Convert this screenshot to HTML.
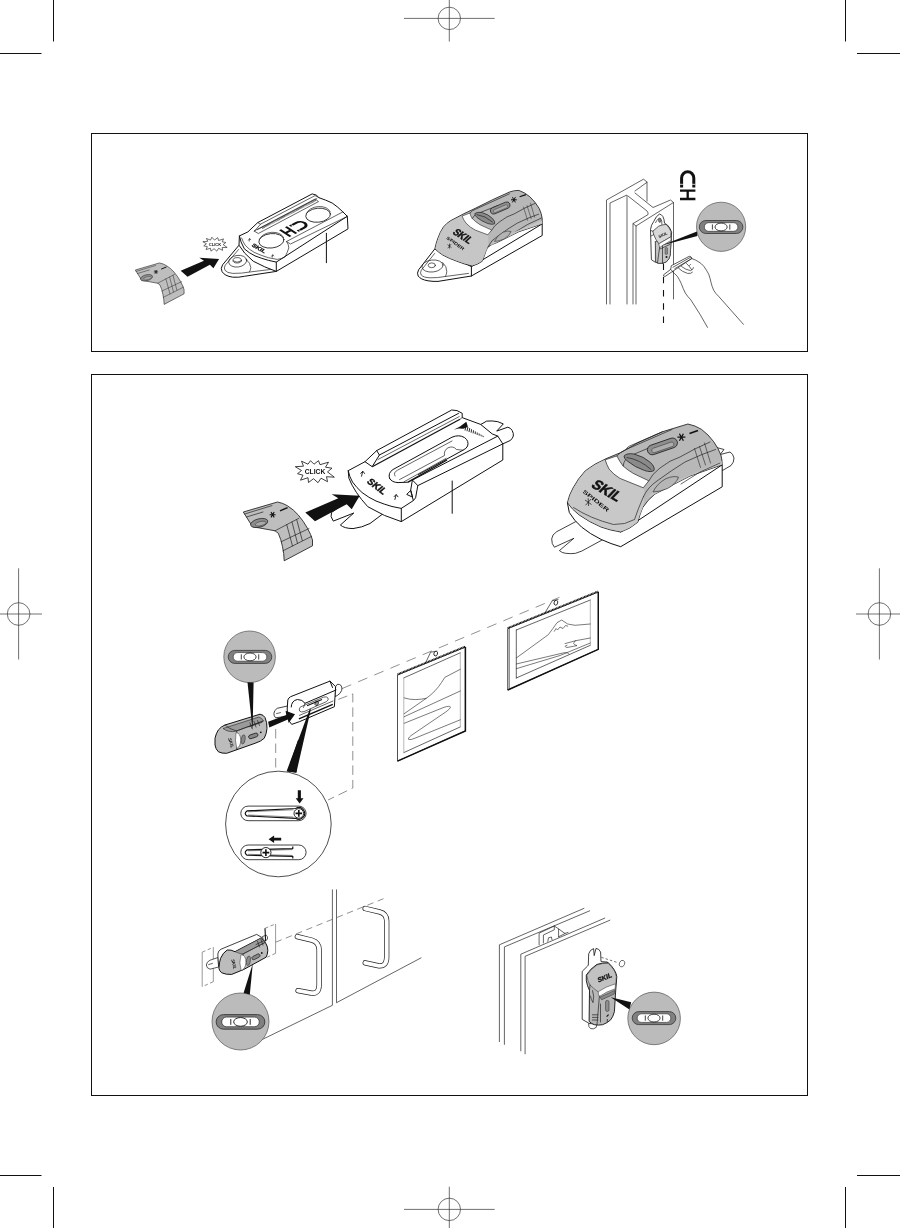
<!DOCTYPE html>
<html><head><meta charset="utf-8"><title>SKIL Spider</title>
<style>
html,body{margin:0;padding:0;background:#fff;}
body{width:900px;height:1228px;overflow:hidden;font-family:"Liberation Sans",sans-serif;}
svg{display:block;will-change:transform;}
.k{stroke:#111;stroke-width:1;fill:none;stroke-linecap:round;stroke-linejoin:round;}
.t{stroke:#222;stroke-width:.7;fill:none;stroke-linecap:round;stroke-linejoin:round;}
.w{stroke:#111;stroke-width:1;fill:#fff;stroke-linejoin:round;}
.g{stroke:#111;stroke-width:.8;fill:#bebebe;stroke-linejoin:round;}
.d{stroke:#111;stroke-width:.8;fill:#8a8a8a;stroke-linejoin:round;}
.b{fill:#111;stroke:none;}
.reg{stroke:#333;stroke-width:.7;fill:none;}
.box{stroke:#111;stroke-width:1;fill:none;}
.crop{stroke:#111;stroke-width:1;fill:none;}
.dash{stroke:#111;stroke-width:.8;fill:none;stroke-dasharray:5 3;}
text{font-family:"Liberation Sans",sans-serif;fill:#111;}
</style></head><body>
<svg width="900" height="1228" viewBox="0 0 900 1228">
<!-- FRAME -->
<g id="frame">
<path class="crop" d="M53.5 0V41.5M0 53.5H41.5M845.5 0V41.5M857 53.5H900M0 1175.5H41.5M53.5 1187V1228M845.5 1187V1228M857 1175.5H900"/>
<g class="reg">
<circle cx="449.3" cy="18.4" r="11.2"/><path d="M404 18.4H494.7M449.3 0V41.6"/>
<circle cx="449.3" cy="1209.4" r="11.2"/><path d="M404 1209.4H494.7M449.3 1186.7V1228"/>
<circle cx="18.6" cy="614" r="11.3"/><path d="M0 614H42M18.6 568.3V659.5"/>
<circle cx="879.4" cy="614" r="11.3"/><path d="M856 614H900M879.4 568.3V659.5"/>
</g>
<rect class="box" x="91.5" y="133.5" width="716" height="218"/>
<rect class="box" x="91.5" y="374.5" width="716" height="721"/>
</g>
<defs>
<g id="endpiece">
<path class="g" d="M243.3 512L277.5 502Q283 503 287.5 505.8Q293.5 509.5 298.3 515Q303.5 521 307.5 528.3Q311 534.5 312.5 540L312.5 545.8L284.2 560.8Q284 553 282.5 546.7Q281 539 278.3 533.3L275 530.8L252.5 526.7Z"/>
<path class="t" d="M275 530.8L298.8 518.3M244.6 514L272 505.6M246.5 517L263 512M283 550.8L311.7 536.3M281.3 541.7L309 528.5M286.7 524.5L292.5 546M292 522L297.5 543.3M296.7 519.6L302.3 540.5"/>
<ellipse cx="259.2" cy="523" rx="8.8" ry="4.2" transform="rotate(-14 259.2 523)" fill="#8c8c8c" stroke="#222" stroke-width=".7"/>
<ellipse cx="260.6" cy="523.6" rx="5.6" ry="2.1" transform="rotate(-14 260.6 523.6)" fill="#a9a9a9" stroke="#333" stroke-width=".5"/>
<path d="M269.6 514.7H275.6M271 512L274.2 517.4M274.2 512L271 517.4" stroke="#111" stroke-width="1.1" fill="none"/>
<path d="M280 510.8L287.6 507.6" stroke="#111" stroke-width="1.4" fill="none"/>
</g>
<g id="bigarrow"><path class="b" d="M305.3 512.5L338.3 498.3L331.7 494.2L359.7 495.8L351.7 509.2L346.7 504.2L315 521.2Z"/></g>
<g id="vial">
<rect x="-21.8" y="-6.5" width="43.6" height="13" rx="6.5" fill="#808080" stroke="#333" stroke-width=".8"/>
<rect x="-16.8" y="-4.3" width="33.6" height="8.6" rx="4.3" fill="#fff" stroke="#222" stroke-width=".6"/>
<ellipse cx="0" cy="0" rx="6.1" ry="3.9" fill="#fff" stroke="#111" stroke-width=".8"/>
<path d="M-8.7 -2.6V2.6M8.7 -2.6V2.6" stroke="#111" stroke-width=".8"/>
</g>
</defs>
<!-- SECTION A -->
<g id="secA">
<use href="#endpiece" transform="translate(135.3 270) scale(.705) translate(-243.3 -512)"/>
<use href="#bigarrow" transform="translate(180.7 270.7) scale(.705) translate(-305.3 -512.5)"/>
<g transform="translate(215 244.6) scale(.9 .82)">
<path d="M-13.5 -3.5L-8 -4L-9.5 -7.5L-5 -5.5L-3.5 -9L-0.5 -5.5L3 -8.5L4 -5L9.5 -7L8 -3.5L12 -2.5L9 0L13.5 3.5L8 3.5L8.5 7L4 4.5L2 8L-1 5L-4.5 8L-5 4.5L-10 6L-8.5 2.5L-12.5 1.5L-9.5 -1Z" fill="#fff" stroke="#111" stroke-width=".7" stroke-linejoin="miter"/>
<text x="0" y="1.8" font-size="5" font-weight="bold" text-anchor="middle" textLength="14" lengthAdjust="spacingAndGlyphs">CLICK</text>
</g>
</g>
<!-- SECTION B -->
<g id="secB">
<!-- tab -->
<path class="w" d="M239 245.2L222.6 264.8Q220.3 268.5 222 271.5Q224.5 276 232.8 277.2Q239 277.6 244.3 276.3L276.3 271.4L276.3 262.1L255 255.9Z"/>
<path class="t" d="M238.6 249.5L225.2 265.2Q223.6 268 225 270.3Q227 273 232.8 273.4Q241 273.6 250.6 271.9L272.8 269.2M246.1 259.4Q250.6 263 250.8 267.5Q250.6 270 249.5 271.9"/>
<ellipse class="t" cx="237.7" cy="261.2" rx="9.1" ry="5.8" transform="rotate(-8 237.7 261.2)"/>
<ellipse class="t" cx="237.2" cy="260.3" rx="4.2" ry="2.7"/>
<path class="t" d="M233.2 261Q237 263.6 241.3 261"/>
<!-- body -->
<path class="w" d="M239.4 235.9L247.9 231.9L257.7 222.6L312.2 193.9L316.5 195.2L318.9 197.7Q326 200 332.2 203Q338 207 342.9 211.9L347.3 216.3L348 228.9L276.3 271.4Q264.8 267.4 253.2 261.2Q243.4 253.2 239 245.2Z"/>
<path class="k" d="M239.4 235.9Q240.3 241.7 244.3 248.8Q249 253 255 255.9Q262 258.6 268.3 260.3L276.3 262.1V271.4M276.3 262.1L347.3 216.3"/>
<path class="t" d="M241.7 238.1Q243 242 245.2 245.2Q249 249.5 254.1 252.3Q261 255.5 268.3 257.7L277.2 259.4Q282 259 285.2 256.8Q287.5 252 288.8 247.9Q288.6 244 286.5 241.5L342.9 211.9M286.5 241.5L290.5 244L347 216.6"/>
<!-- slot -->
<path class="t" d="M254.4 231.2L258.3 233.5L318.5 201.6L315.5 199.2ZM257.5 229.6L316.8 198.6"/>
<path d="M262 228.3L316 200.2" stroke="#333" stroke-width="1.6" stroke-dasharray=".6 .6" fill="none"/>
<path class="t" d="M257.7 222.6L260.5 224.2L315 195.6L318.9 197.7M260.5 224.2L254.4 231.2"/>
<!-- circles -->
<ellipse class="k" style="stroke-width:.8" cx="271.4" cy="240.8" rx="12.6" ry="7.2" transform="rotate(-6 271.4 240.8)"/>
<path class="t" d="M259.4 239.5Q262 233.2 271.8 232.3Q281 232 283.6 237.6"/>
<ellipse class="k" style="stroke-width:.8" cx="318.1" cy="215.2" rx="12.4" ry="7" transform="rotate(-6 318.1 215.2)"/>
<path class="t" d="M306.3 213.6Q309 207.4 318.6 206.5Q327.6 206.3 330.3 211.8"/>
<!-- magnet icon on base -->
<g transform="matrix(.883 -.469 .839 .545 294.3 228.4)" stroke="#111" fill="none" stroke-width="2.3" stroke-linecap="butt">
<path d="M-10.2 -6.2V6.2M-3.6 -6.2V6.2M-10.2 0H-3.6"/>
<path d="M-.5 -4.6H7A4.6 4.6 0 0 1 7 4.6H-.5" stroke-width="2.5"/>
<path d="M1.6 -6V-3.2M1.6 3.2V6" stroke="#fff" stroke-width=".7"/>
</g>
<!-- text -->
<text transform="translate(257.9 249.8) rotate(30) scale(1 .8)" font-size="6.6" font-weight="bold" font-style="italic" stroke="#111" stroke-width=".35" text-anchor="middle">SKIL</text>
<path d="M248.2 240.5L249.6 238.5L251 240M249.6 238.5L249.2 241.5M271.3 256.6L272.7 254.7L274 256.2M272.7 254.7L272.3 257.6" stroke="#111" stroke-width=".6" fill="none"/>
<path class="k" d="M326.4 233.3V262.7"/>
</g>
<!-- SECTION C -->
<g id="secC">
<!-- base tab -->
<path class="w" d="M434.9 248.8L418.6 269.8Q416.6 273.5 418.2 276Q420.5 279.5 428 280.8Q433 281.6 438 281.4L471.4 276L542.2 235.5V223.9L471.4 266.6Z"/>
<path class="t" d="M434.6 253.5L421.3 270.2Q419.8 273 421.2 275Q423.5 277.6 430 277.8Q437 278 446 276.4L468.5 273.4M442.7 262.5Q447 266.5 446.8 271.5Q446.6 274.5 445.5 276.4"/>
<ellipse class="t" cx="432.5" cy="266" rx="10.6" ry="6" transform="rotate(-6 432.5 266)"/>
<ellipse class="t" cx="431.8" cy="265.3" rx="3.6" ry="2.4"/>
<path class="k" d="M471.4 266.6V276"/>
<!-- gray body rear -->
<path class="g" style="fill:#b8b8b8" d="M434.9 248.8Q436 243 438 237.9Q440 232 443.4 227Q446.5 223.3 450.4 220.8L463.7 213.8L475.3 208.3L492.4 199.8L509.5 192Q514.5 190.2 518.9 190.4Q525 192.5 529.8 196.7Q535.5 202 539.1 208.3Q541.6 213.5 542.2 218.4V223.9L518.9 231.7L497.1 242.5Q491 244.5 487.8 247.2Q485.6 251 484.6 255L482.3 261.2Q478 264.5 472.2 265.9Q464 264.2 456.7 261.2Q449 258.5 442.7 255Q438 252 434.9 248.8Z"/>
<!-- lighter nose -->
<path d="M435.4 248.6Q436.4 243 438.4 237.9Q440.4 232 443.8 227.3Q446.8 223.6 450.6 221.2L462.1 215.6L466 223.1Q470 227.5 475.3 230.1L487.8 234.8Q489 240 487.8 247.2Q485.6 251 484.6 255L482.3 260.8Q478 264 472.2 265.4Q464 263.8 456.7 260.8Q449 258 442.7 254.6Q438.5 252 435.4 248.6Z" fill="#c6c6c6"/>
<!-- white stripe -->
<path d="M462.1 216.1L469.9 213Q470.5 216 472.2 218.4Q475.5 222 480 224.7L491.7 230.1L487.8 234.8L475.3 230.1Q470 227.5 466 223.1Q463.5 220 462.1 216.1Z" fill="#fff" stroke="#222" stroke-width=".6"/>
<!-- top hump -->
<path class="t" d="M469.9 213Q472 210.5 476 209L509.5 193.8M472.2 218.4Q474 214.5 479 213L498 205.5M491.7 230.1Q494 225.5 500 221.5Q507 216 514 214Q524 208 535 203.4M487.8 247.2Q491 240 498 236Q508 228.5 517.5 223L529 217.8L538.6 214.2M514.5 232.5L527.5 224.5L541.5 218"/>
<path d="M490 246Q493.5 241 500 238L541.8 220.6L542 223.7L518.9 231.5L497.1 242.3Q492.5 244.5 490 246Z" fill="#c6c6c6"/>
<!-- ovals -->
<path d="M474.8 213.5Q477.5 211.6 482 212.6Q488.5 214.3 492.6 218.6Q495.6 222 494.6 223.8Q492.5 225 488 223.6Q481 221 477 217.5Q474.6 215.2 474.8 213.5Z" fill="#8a8a8a" stroke="#222" stroke-width=".7"/>
<path d="M477 214.6Q485 215.5 492.5 222" class="t"/>
<rect x="-10.4" y="-3.3" width="20.8" height="6.6" rx="3.3" transform="translate(500.2 208) rotate(-23)" fill="#8e8e8e" stroke="#222" stroke-width=".7"/>
<rect x="-7.6" y="-1.5" width="15.2" height="3" rx="1.5" transform="translate(500.6 208.7) rotate(-23)" fill="#adadad" stroke="#333" stroke-width=".4"/>
<!-- side bump -->
<path d="M494.5 241.5Q497 235.5 503 232.2Q508 230.3 511 231.5Q509.5 236 504 239Q499 241.2 494.5 241.5Z" fill="#b4b4b4" stroke="#333" stroke-width=".6"/>
<!-- asterisk & dash -->
<path d="M511 199.8H516.8M512.4 197.2L515.4 202.4M515.4 197.2L512.4 202.4" stroke="#111" stroke-width="1" fill="none"/>
<path d="M519.6 196.7L525.9 194.6" stroke="#111" stroke-width="1.2"/>
<!-- grid -->
<path class="t" style="stroke-width:.5" d="M523.5 207L527.6 220.4M527 205.6L531.2 218.6M530.5 203.2L534.6 217.2"/>
<!-- texts -->
<text transform="translate(460.3 238.6) rotate(33) skewX(-14)" font-size="10.5" font-weight="bold" stroke="#111" stroke-width=".4" text-anchor="middle" textLength="20" lengthAdjust="spacingAndGlyphs">SKIL</text>
<text transform="translate(454.6 244.6) rotate(36)" font-size="4.4" font-weight="bold" text-anchor="middle" textLength="21" lengthAdjust="spacingAndGlyphs">SPIDER</text>
<path d="M447.5 244.6L451.5 247.6M451.2 244L447.8 248.2M449.5 243.6V248.6" stroke="#111" stroke-width=".6"/>
</g>
<!-- SECTION C2: I-beam -->
<g id="secC2">
<path class="t" d="M606.5 304V200L643.5 179.2L647 182V201M610 304V203L626.5 195.2M635 191L647 182.3M627 195.5V304M628 196L647 211Q648.6 213 648 214.6L633 223.6V304M635 193L653 207.5L670.5 200L673.5 202.5V299M673.5 202.5L636 226V304M633 223.6L636 226"/>
<!-- device on beam -->
<path class="w" style="stroke-width:.8" d="M659.4 214.1Q656 216 653.7 221.5Q651 225 650.5 229.5L651.4 259.7Q654.5 262.3 658.8 263.4Q663 263.5 666.2 262Q669.3 259.5 670.2 255.2L671.6 232.4Q670.5 228 667.4 225L664.5 223.2Q664.3 219 662.8 216.4Q661.3 214.2 659.4 214.1Z"/>
<path class="t" d="M655.6 222.6Q658 217.5 660.5 218.6Q662.2 221 662 224.5M655.4 241.5V261.6"/>
<ellipse cx="659.8" cy="220.2" rx="1.3" ry="2.2" fill="#888" stroke="#222" stroke-width=".5"/>
<path d="M655.4 241.5L671.2 239L670.2 255.2Q669.3 259.5 666.2 262Q663 263.5 658.8 263.4L655.7 262Z" fill="#c6c6c6" stroke="#222" stroke-width=".6"/>
<path d="M652.8 231.2L658.8 226.1Q662.5 224.6 666.2 224.4Q669.4 227.5 671.1 231.8L670.8 236.9L658.8 243.8Q655.5 239.5 653.7 234.6Z" fill="#d8d8d8" stroke="#222" stroke-width=".7"/>
<path d="M658.8 243.8L670.8 236.9L671 240.4L659.6 247.4Z" fill="#fff" stroke="#222" stroke-width=".5"/>
<path class="t" d="M650.8 230.5L652.8 231.2M653.7 234.6L651 236M659.6 247.4L657.5 262.8M662.5 246V263.3M660 249L669.8 244.5"/>
<rect x="665" y="247.5" width="2.6" height="7" rx="1.2" fill="#8a8a8a" stroke="#222" stroke-width=".4"/>
<circle cx="666.5" cy="257" r="1" fill="#111"/>
<text transform="translate(663.6 236.2) rotate(-27)" font-size="4.2" font-weight="bold" font-style="italic" text-anchor="middle">SKIL</text>
<!-- bubble -->
<circle cx="721.1" cy="226.8" r="24.6" fill="#bbb" stroke="#555" stroke-width=".7"/>
<use href="#vial" transform="translate(721.1 227)"/>
<path class="b" d="M661.5 245.6L696.9 231.4L697.4 236Z"/>
<!-- magnet icon -->
<g stroke="#111" fill="none" stroke-linecap="butt">
<path d="M681.6 187.4V177.9A6.1 6.1 0 0 1 693.8 177.9V187.4" stroke-width="3"/>
<path d="M680 184.3H683.3M692.1 184.3H695.4" stroke="#fff" stroke-width=".8"/>
<path d="M680 190.6H695.4M680 199H695.4M687.7 190.6V199" stroke-width="2.3"/>
</g>
<!-- dashed -->
<path d="M663.5 263.5V323" stroke="#111" stroke-width="1.1" stroke-dasharray="6.5 6.75" fill="none"/>
<!-- hand -->
<path class="w" style="stroke-width:.7" d="M663.3 275L670.7 269.4L671.3 265.7L689.3 256.3Q691.5 256.6 692 258.3L672.6 271.4L664.7 276.7Z"/>
<path class="t" d="M670.7 269.4L672.6 271.4M673 267.2L690.5 257.3M674.8 268.6L691.4 258.8"/>
<path class="t" d="M692 258.6Q696 260 698.9 262Q701.5 263.5 703.8 266.3Q706.5 270 708.7 274.2Q710.3 278.5 711.1 282.8Q712 286.5 713.6 290.1Q715.5 293.5 718.5 296.2L743.5 324.4M672.3 271.6Q675 273.8 677.3 276.3Q679.5 279.5 681.3 283.7Q683 288.5 685.3 293Q687.5 296.5 690.7 299.7L700 314.3L707.5 327.4"/>
<path class="t" d="M678.5 268.2Q682 271.8 687.5 273.4Q691 274 692.5 272.2M681.5 266.5Q686 270 690.5 270.6Q693 270 693.5 267.6M686.5 263.5Q689.5 266.2 691.5 269.5M689.5 265.5L690.5 264.4"/>
</g>
<!-- SECTION D -->
<g id="secD">
<!-- front leg of base (behind arrow) -->
<path class="w" d="M345 503L331.5 512.5Q329.8 516.5 333.3 521.1L353.8 513L340.4 525Q344 528.4 353 528.6Q362 527.6 370 523.5L384 513L362 494Z"/>
<use href="#endpiece"/>
<use href="#bigarrow"/>
<g transform="translate(315 471.7)">
<path d="M-19.7 -5L-11.5 -5.5L-13.5 -10.5L-7 -7.5L-4.5 -11L-1 -7.5L3.5 -11L5 -7L13.5 -9.5L10.5 -4.5L17 -3.5L12.5 0.2L19.3 5.5L11.5 5L12.5 10L6 6.5L3 11L-1.5 7L-6.5 10.8L-7 6L-14.5 8.5L-12 3.5L-17.5 2L-13.5 -1.2Z" fill="#fff" stroke="#111" stroke-width=".8" stroke-linejoin="miter"/>
<text x="0" y="2.7" font-size="7.4" font-weight="bold" text-anchor="middle" textLength="20.5" lengthAdjust="spacingAndGlyphs">CLICK</text>
</g>
</g>
<!-- SECTION E -->
<g id="secE">
<!-- back leg -->
<path class="w" d="M478 426L486.7 421.1Q492 420.5 497.8 421.7L503.3 423.9L496.7 431.1L507.8 427.2Q511 428 512.2 430.6Q513.8 433.5 513.3 436.1Q512.5 439 510 440.6L502.8 443.9L492 436Z"/>
<!-- body -->
<path class="w" d="M348.2 470.7L365 461.7L376.7 450.6L451.7 410Q457 409.5 462.2 413.3V417.6L480.6 424.4L492.2 433.9L497.8 436.1L502.8 443.9V460L401.3 521.6Q384.4 516.7 367.8 506.7Q354.4 492.2 348.9 478.3Z"/>
<path class="k" d="M348.2 470.7Q349.4 476.7 352.5 482Q356.7 487.8 362 492.5Q368.9 497.8 376 501Q384.4 504.4 392 506.5L401.3 508.4V521.6M401.3 508.4L413.3 500.6L415.6 497.8L417.8 485.6L502.8 443.9"/>
<!-- right rail -->
<path class="k" d="M412.4 480L497.8 436.1M412.4 480L417.8 485.6M412.4 480L410.6 490.6L413.3 500.3M410.6 490.6L406.7 494.4L412.2 497Z"/>
<!-- left rail -->
<path class="k" d="M365 461.7L372.2 466.7L379.4 455L376.7 450.6M379.4 455L458.5 413.4"/>
<path class="t" d="M378 459.5L459.2 416.6"/>
<path d="M372.2 466.7L460 419.2" stroke="#111" stroke-width="1.3" fill="none"/>
<path class="t" d="M462.2 417.6L459.5 419.6"/>
<!-- slot -->
<path class="k" d="M389.6 478.5Q387.6 473 393 469.5L452 437.2Q459 434.2 464.6 437.6Q469.2 441 467.6 446Q466.5 448.6 463 450.2L418.5 474.5M389.6 478.5Q392 482.4 398 482.6L408 482.2"/>
<path class="t" d="M395 476Q393 472.6 397.5 470.2L452 441M399.5 479.6L444.5 455.5Q443.6 450.5 448 447.8Q453 445.5 456.5 449.5L463 450.2M404 481.8L446 458.4"/>
<path d="M408 482.2L447 460" stroke="#111" stroke-width="1.4" fill="none"/>
<!-- screw icon -->
<path class="b" d="M453.7 429.7L460 426.6L466.3 421.8L467.9 426.8L463.4 428.8L458.5 428.4Z"/>
<path d="M466.0 425.9L465.0 430.5M467.9 427.0L467.0 431.2M469.8 428.1L469.0 432.0M471.6 429.2L471.1 432.7M473.5 430.3L473.1 433.4M475.3 431.4L475.2 434.1M477.2 432.5L477.2 434.9M479.1 433.5L479.2 435.6M480.9 434.6L481.3 436.3M482.8 435.7L483.3 437.1" stroke="#111" stroke-width=".9" fill="none"/>
<!-- text -->
<text transform="translate(374.6 488.6) rotate(37) skewX(-12)" font-size="9.5" font-weight="bold" stroke="#111" stroke-width=".4" text-anchor="middle" textLength="21" lengthAdjust="spacingAndGlyphs">SKIL</text>
<path d="M361.4 476.6L362.8 471.2M360.4 473.6L362.8 471.2L364.8 473.8M394.8 499.9L396.2 494.5M393.8 496.9L396.2 494.5L398.2 497.1" stroke="#111" stroke-width=".9" fill="none"/>
<path class="k" d="M452.2 481V513.3"/>
</g>
<!-- SECTION F -->
<g id="secF">
<!-- rear leg -->
<path class="w" style="stroke-width:.8" d="M712 443L716.5 447.5L724 449.5L720 454.6L730 452Q733 453.5 734 458Q734 462.5 731 465.5L722.5 470.5L716 462Z"/>
<!-- front leg -->
<path class="w" style="stroke-width:.8" d="M575.6 521.7L556.7 531.7Q552 534.5 551.7 538.9Q551.5 544 554.4 547.2L573.9 538.3L559.4 550.6Q562 553 565.6 553.3Q571 554 575.6 553.3Q582 551.5 587.8 547.8L603 539.5L590 520Z"/>
<!-- base -->
<path class="w" d="M567.4 502.7L569.3 512.5Q574 520.5 581.6 527.1Q590 534 601.1 539.4Q611 544 620.7 546.7L722.2 486.8V464.8L620.7 532Z"/>
<!-- gray body (rear) -->
<path class="g" style="fill:#b8b8b8" d="M567.4 502.7Q569 495 573 488Q578 478.5 585.2 470.9Q594 463.8 606 458.7L620.7 452.6L637.8 442.8L662.2 431.8L687.9 424Q695.5 425.5 701.4 429.3Q708.5 434.5 713.6 441.6Q718.5 448.5 720.9 455Q722.2 460 722.2 464.8L690 476L654.9 494.1Q647.5 500 642.7 507.6Q639.5 515 637.8 522.2Q630 529 620.7 532Q610.5 530.5 601.1 527.1Q589 522 579.1 514.9Q572 509.5 567.4 502.7Z"/>
<!-- lighter side panel -->
<path d="M647 498Q652 492 660 488L721.6 461L722 464.6L690 475.8L654.9 493.9Q650.5 496.5 647 498Z" fill="#c4c4c4"/>
<!-- lighter nose -->
<path d="M568 502.4Q569.6 495 573.6 488Q578.6 478.6 585.6 471.3Q594.4 464.2 606.2 459.2L605.2 459.8Q606.8 465 609.1 469.1Q613.5 474.5 620 478.4L643.3 487.8Q645.5 492 643.5 496.5Q645 502 642.7 507.6Q639.5 515 637.4 521.9Q630 528.5 620.7 531.4Q610.5 530 601.1 526.6Q589 521.5 579.4 514.5Q572.5 509.3 568 502.4Z" fill="#c8c8c8"/>
<path class="t" d="M573.5 507.5Q590 518.5 613.5 524.5Q625 525 634.5 519.5Q638 509 643.5 496.5"/>
<!-- white stripe -->
<path d="M605.2 459.8L616.9 455.9Q619.5 461.5 623.1 466Q628 470.5 634 473.8L648.8 480.8L643.3 487.8L620 478.4Q613.5 474.5 609.1 469.1Q606.8 465 605.2 459.8Z" fill="#fff" stroke="#222" stroke-width=".7"/>
<!-- top contour lines -->
<path class="t" d="M616.9 455.9Q620 452 626 449.5L672 429.5M623.1 466Q624 458.5 631 455.5L664 441.5M648.8 480.8Q652 474 660 468Q670 460 680 457Q694.5 448.5 710 442M643.5 496.5Q648 487 657 481Q672 470 685 462L702 454.5L715.5 449.5M681 484L700 472L720 463M626.5 448.5L628.5 446.5L662.4 431.8"/>
<!-- vial ovals -->
<path d="M624 456Q627 452.8 634 454Q644 456.5 650.5 462.5Q655.3 467.5 654 470.5Q651 472.6 644.5 470.5Q634.5 467 628 461.5Q623.6 458.5 624 456Z" fill="#8a8a8a" stroke="#222" stroke-width=".8"/>
<path class="t" d="M627 457.5Q640 459.5 651 469.5"/>
<rect x="-15.6" y="-4.9" width="31.2" height="9.8" rx="4.9" transform="translate(662.4 446.4) rotate(-19)" fill="#8e8e8e" stroke="#222" stroke-width=".8"/>
<rect x="-11.6" y="-2.3" width="23.2" height="4.6" rx="2.3" transform="translate(662.8 447.4) rotate(-19)" fill="#adadad" stroke="#333" stroke-width=".5"/>
<!-- side bump -->
<path d="M653 492Q657 483.5 666 478.6Q673.5 475.5 678.5 477.2Q676 484 667.5 488.5Q660 491.8 653 492Z" fill="#b6b6b6" stroke="#333" stroke-width=".7"/>
<!-- asterisk & dash -->
<path d="M677.4 437.2H685.4M679.4 433.7L683.4 440.7M683.4 433.7L679.4 440.7" stroke="#111" stroke-width="1.3" fill="none"/>
<path d="M689.5 433.6L698 430.6" stroke="#111" stroke-width="1.6"/>
<!-- grid -->
<path class="t" style="stroke-width:.6" d="M694.5 448.5L700.5 467.5M699.5 446.5L705.5 465M704.5 443L710.5 463"/>
<!-- texts -->
<text transform="translate(603.6 494.2) rotate(30) skewX(-14)" font-size="14.5" font-weight="bold" stroke="#111" stroke-width=".5" text-anchor="middle" textLength="31" lengthAdjust="spacingAndGlyphs">SKIL</text>
<text transform="translate(594.8 502.2) rotate(39)" font-size="5.4" font-weight="bold" text-anchor="middle" textLength="32" lengthAdjust="spacingAndGlyphs">SPIDER</text>
<path d="M585 500L591.5 504.5M591 499L585.6 505.2M588.2 498.2L588.5 506" stroke="#111" stroke-width=".7"/>
</g>
<!-- SECTION G -->
<g id="secG">
<!-- dashed guides -->
<g stroke="#555" stroke-width=".65" fill="none" stroke-dasharray="10 7.5">
<path d="M342 688.6L559.5 597.3"/>
<path d="M338.3 699.4L352.8 693.9V788L328 800" stroke-dasharray="9.5 5"/>
<path d="M275.7 729V771" stroke-dasharray="9.5 5"/>
</g>
<!-- bubble -->
<circle cx="249.6" cy="656.8" r="25.8" fill="#bbb" stroke="#555" stroke-width=".7"/>
<use href="#vial" transform="translate(250 656.9)"/>
<!-- device -->
<path class="g" style="fill:#bcbcbc;stroke-width:1" d="M215 738.3Q216 733.5 218.3 730Q221 726.5 225 725L260 714.2Q263.5 714.8 265 717.5Q267.2 722.5 267 728.3Q266.6 734 264.2 738.3Q261 741.5 255 743.3L226.7 753.3Q221.5 753.6 218.3 751.7Q215.6 749 215 745Z"/>
<path d="M223 728.5L259 717Q262 718 263.3 721L236.5 731Q229 733 223 728.5Z" fill="#9a9a9a" stroke="#222" stroke-width=".6"/>
<path class="t" d="M225 725Q229 729 236.5 731L263.3 721M236.5 731Q239.5 739 236.5 749.6M250 723L252 728.5M254 721.5L256 727M257.5 720.5L259.5 725.5M249 726.8L262 722.3"/>
<path d="M236 732.6Q240.5 733 240.8 740Q240.6 746.5 236.8 748.6Q234.6 741 236 732.6Z" fill="#fff" stroke="#222" stroke-width=".5"/>
<ellipse cx="243.2" cy="739.4" rx="1.9" ry="4.6" fill="#8a8a8a" stroke="#222" stroke-width=".5" transform="rotate(8 243.2 739.4)"/>
<rect x="-4.8" y="-1.9" width="9.6" height="3.8" rx="1.9" fill="#888" stroke="#111" stroke-width=".7" transform="translate(253.3 735.9) rotate(-19)"/>
<circle cx="260.8" cy="732.3" r=".9" fill="#111"/>
<text transform="translate(229.6 743.4) rotate(72)" font-size="4.6" font-weight="bold" font-style="italic" text-anchor="middle">SKIL</text>
<path class="b" d="M247.5 682.2L253.6 682.4L252.6 730.6Z"/>
<!-- base -->
<path class="w" d="M287.4 706L277.2 708.3Q274 710.5 273.9 713.3Q273.8 716 275.6 717.8L288.6 716Z" style="stroke-width:.8"/>
<path class="t" d="M276.5 713.6L280.5 712.6"/>
<path class="w" d="M335.6 686.7L337.2 684.4Q339.5 683.8 341.1 685.6Q342.5 688 341.7 690.4Q340.5 693.5 337.2 695.6L335 696.5Z" style="stroke-width:.8"/>
<path class="w" d="M287.8 700Q288.5 697.8 290.6 696.7L330 681.1L335.6 686.7L334.4 706.7L299.4 721.7L291.7 724.4L288.9 720.6Q287 714 287.2 708.9Z"/>
<path class="k" d="M291.2 707Q291.5 700.5 297.4 699.5Q302.5 699.5 305 703.3L336 690M330 681.1L332.5 687.5"/>
<path class="t" d="M305 703.3L303.5 707.5M300.2 707.2Q298.5 709 299.6 711Q301 712.6 304 711.6L326.5 701.6Q329 700 328 698Q326.8 696.2 324 697Z"/>
<path d="M298.9 718.9L332.8 704.4" stroke="#111" stroke-width="1.5" fill="none"/>
<path class="t" d="M299.4 715.4L333 701"/>
<ellipse cx="316.7" cy="703.3" rx="1.7" ry="2.4" fill="#999" stroke="#111" stroke-width=".6" transform="rotate(20 316.7 703.3)"/>
<path d="M307 705.8L322 699.4" stroke="#111" stroke-width="1.1"/>
<path class="b" d="M310 708.6L310.8 709.6L296.4 772.5L286.6 771.2Z"/>
<!-- arrow -->
<path class="b" d="M268.1 721.7L286.2 715L285.6 710.8L295 714.2L288.7 723L287.8 719.6L269.3 727.4Z"/>
<!-- big circle -->
<circle cx="278.4" cy="824" r="52.8" fill="#fff" stroke="#222" stroke-width=".8"/>
<path class="b" d="M298 740L299.6 740L296.4 772.8L287.4 771.6Z"/>
<rect x="240.8" y="806.1" width="65.3" height="14.6" rx="7.3" fill="#fff" stroke="#111" stroke-width=".8"/>
<path d="M247 810.9L295.7 808.5A5.8 5.8 0 1 1 295.7 818.3L247 815.9Q243.4 813.4 247 810.9Z" fill="#fff" stroke="#111" stroke-width="1.2" stroke-linejoin="round"/>
<path class="t" style="stroke-width:.5" d="M248.5 811.8L293 809.8M248.5 815L293 817"/>
<circle cx="298.8" cy="813.4" r="4.8" fill="#fff" stroke="#111" stroke-width=".9"/>
<path d="M295.5 813.4H302.1M298.8 810.1V816.7" stroke="#111" stroke-width="1.6"/>
<path class="b" d="M297.8 790.3H300.9V798.3H303.5L299.6 803.4L295.7 798.3H297.8Z"/>
<rect x="240.8" y="845" width="65.3" height="14.7" rx="7.35" fill="#fff" stroke="#111" stroke-width=".8"/>
<path d="M292.8 846.4V848.6L247 849.9Q243.4 852.5 247 855.2L292.8 856.4V858.4" fill="none" stroke="#111" stroke-width="1.2" stroke-linejoin="round"/>
<path class="t" style="stroke-width:.5" d="M248.5 850.8L292 849.6M248.5 854.3L292 855.4"/>
<circle cx="265.9" cy="852.6" r="5.1" fill="#fff" stroke="#111" stroke-width=".9"/>
<path d="M262.5 852.6H269.3M265.9 849.2V856" stroke="#111" stroke-width="1.6"/>
<path class="b" d="M281.2 837.8V840.6H274.1V842.9L268.6 839.2L274.1 835.5V837.8Z"/>
<!-- picture 1 -->
<path d="M397.5 675L465.4 647.1V730.9L397.5 761.1Z" fill="#fff" stroke="#222" stroke-width=".8"/>
<path d="M397.5 761.1L465.4 730.9V647.1" fill="none" stroke="#111" stroke-width="1.5"/>
<path d="M397.5 674.4L465.4 646.5" stroke="#111" stroke-width="1.9" stroke-dasharray="1 .5" fill="none"/>
<path d="M403.8 677.9L460.3 652.8M403.8 752.6L460.3 726.9" class="t"/>
<path d="M403.8 677.9V752.6M460.3 652.8V726.9" stroke="#999" stroke-width=".7" fill="none"/>
<path class="t" style="stroke-width:.6" d="M404.2 697.9Q409 699.6 415.8 699.6Q421 699.4 426.3 698.3Q431 695 435 690.8Q439 686.5 441.5 682.5L444.9 677.3L460.3 669.3M404.2 713.7L426.3 698.3M404.2 716.7L460.3 691M404.2 723.3L444 707.3Q449.5 705.6 450.4 706.9Q450.6 708.3 446 711.8L411 735.6Q407.5 738.6 408.7 739.5Q411 740 415 738.2L460.3 719.8"/>
<path class="t" d="M425.5 663.1L430.6 652.2L437 651.2"/>
<ellipse cx="435.7" cy="653.6" rx="1.8" ry="2.4" fill="#fff" stroke="#111" stroke-width=".8" transform="rotate(15 435.7 653.6)"/>
<!-- picture 2 -->
<path d="M507.7 628.7L598.3 592V649.3L507.7 690Z" fill="#fff" stroke="#222" stroke-width=".8"/>
<path d="M507.7 690L598.3 649.3V592" fill="none" stroke="#111" stroke-width="1.4"/>
<path d="M507.7 628.1L598.3 591.4" stroke="#111" stroke-width="1.9" stroke-dasharray="1 .5" fill="none"/>
<path class="t" d="M509.2 628.4V689.3M516.3 630L590.3 600M516.3 678L590.3 645.3M516.3 630V678"/>
<path d="M590.3 600V645.3" stroke="#999" stroke-width=".7" fill="none"/>
<path class="t" style="stroke-width:.6" d="M516.3 658L548.3 634.7Q553 628.5 557 622.7L561.7 620L567.7 624L575 625.3L590.3 624M554.3 631.3L556 628.5L557.5 630L560 627L563 628.5L565.5 625.5L567.7 626.2M516.3 664L564.3 652.7Q568.5 652 569 654M516.3 668.7L560 655.5L590.3 643M567 645.3Q563 646.5 567 647.5L577 645.6Q571 644 575.7 640.7L590.3 638M575.7 640.7L565 643.6"/>
<path class="t" d="M545 612.7L552.3 600.7L558 599.6"/>
<ellipse cx="555.9" cy="602.7" rx="1.8" ry="2.5" fill="#fff" stroke="#111" stroke-width=".8" transform="rotate(15 555.9 602.7)"/>
</g>
<!-- SECTION H -->
<g id="secH">
<path class="t" d="M332.4 889.8V1005.3L262 1039.6M336.5 889.8V1002.7L421 957.9"/>
<!-- handles -->
<g fill="none" stroke-linecap="round" stroke-linejoin="round">
<path id="h1" d="M297.3 936.6L312 940.2Q319.1 942.2 319.1 950V985Q319.1 994 311.5 993.2L298 990.6" stroke="#222" stroke-width="5.3"/>
<path d="M297.3 936.6L312 940.2Q319.1 942.2 319.1 950V985Q319.1 994 311.5 993.2L298 990.6" stroke="#fff" stroke-width="3.9"/>
<path d="M365.1 908.5L379.5 911.8Q386.7 913.6 386.7 921V957Q386.7 966.5 379 965.8L365.2 962.8" stroke="#222" stroke-width="5.3"/>
<path d="M365.1 908.5L379.5 911.8Q386.7 913.6 386.7 921V957Q386.7 966.5 379 965.8L365.2 962.8" stroke="#fff" stroke-width="3.9"/>
</g>
<!-- dashed -->
<g stroke="#555" stroke-width=".65" fill="none" stroke-dasharray="6.5 4.5">
<path d="M275.6 942.2L383.5 898.7"/>
<path d="M202.2 952.2L213.3 947.2M213.3 981.7L202.2 986.7M265 928.3L275.6 923.9M275.6 953.3L267.2 957.2" stroke-dasharray="3.5 2.5"/>
<path d="M202.2 952.2V986.7M213.3 947.2V981.7M275.6 923.9V953.3" stroke-dasharray="none" stroke="#555" stroke-width=".6"/>
</g>
<!-- leg loop -->
<path class="w" style="stroke-width:.7" d="M218 957.5L210 960.2Q206.5 962 206.3 965Q206.6 968.4 210 969.2L218.6 967Z"/>
<path class="t" d="M208.6 964.6L212.5 963.4"/>
<!-- base -->
<path class="w" style="stroke-width:.8" d="M217.8 954Q218.2 950.6 221 949.2L256.7 934.4L262 937.6L263 942L224 962L218.6 966Z"/>
<path class="w" style="stroke-width:.7" d="M262.5 936.5L266.3 935.2Q268 936.5 267.5 939L264 942.5Z"/>
<!-- device -->
<path class="g" style="fill:#bcbcbc;stroke-width:1" d="M218.9 968.3Q219.2 962.5 220.6 958.3Q223 952.6 227.2 950Q231 949.5 235 951.7L260.6 938.3Q264.3 940.2 266.1 943.9Q267.9 947 267.8 950.6Q267.6 954.5 266.1 957.2L243.9 969.4L231.7 974.4Q226 974.8 221.7 972.8Q219.3 971 218.9 968.3Z"/>
<path d="M235 951.7L260.6 938.3Q263.6 939.8 265.2 942.4L243 954Q238.5 953.5 235 951.7Z" fill="#9c9c9c" stroke="#222" stroke-width=".5"/>
<path class="t" d="M243 954L265.2 942.4M243 954Q244.5 961 243.4 969.4M257.5 941.2L259.5 947M261 939.5L263 945.2M256 944.6L265.6 939.8"/>
<path d="M241 954.6Q246.2 955.4 246 962.5Q245.4 969 241.2 970.6Q238.6 963 241 954.6Z" fill="#fff" stroke="#222" stroke-width=".5"/>
<ellipse cx="248.4" cy="960.8" rx="2" ry="4.8" fill="#8a8a8a" stroke="#222" stroke-width=".5" transform="rotate(8 248.4 960.8)"/>
<rect x="-4.4" y="-1.7" width="8.8" height="3.4" rx="1.7" fill="#888" stroke="#111" stroke-width=".6" transform="translate(256 956.8) rotate(-27)"/>
<circle cx="261.8" cy="953" r=".9" fill="#111"/>
<text transform="translate(232.4 964.4) rotate(78)" font-size="4.4" font-weight="bold" font-style="italic" text-anchor="middle">SKIL</text>
<path d="M265 928.3L265.6 941" stroke="#111" stroke-width="1.1"/>
<!-- bubble -->
<circle cx="240.5" cy="1021.5" r="28.5" fill="#bbb" stroke="#555" stroke-width=".7"/>
<use href="#vial" transform="translate(240.5 1021.9) scale(1.117)"/>
<path class="b" d="M252.8 963.6L249.8 994.6L243.6 993Z"/>
</g>
<!-- SECTION I -->
<g id="secI">
<path class="t" d="M499.4 1041.6V944.8L583.9 908.4M504.4 1044.4V946.9L589.7 910.8M520.8 1050.9V954.2L604.8 918.1M525.1 1053.8V956.3L609.9 920.2"/>
<path class="t" d="M539.1 944.8V933.2L554.3 926L558.6 928.9V936.8M543.4 943V935L554.3 929.8V926M558.6 928.9L565 933.5L568 932.4M558.6 936.8L565 933.5M547.8 941.4L548.5 937.8L551.4 937L552 939.6"/>
<!-- base -->
<path class="w" style="stroke-width:.8" d="M582.2 971.4L587.5 966.1L588.3 965.2L588.7 953.8Q590 949.5 593.6 948.6L594.2 955.6L596 948.4Q599 948.6 600.6 952L601 961.6L607.5 962L612 968L590 1024L588.7 1023.1L582.2 1019.4Z"/>
<path class="w" style="stroke-width:.7" d="M588.6 1023.5Q588.2 1027 590.6 1028.6Q593.5 1029.6 596.2 1027.4L597 1024Z"/>
<!-- device body -->
<path class="g" style="fill:#b8b8b8;stroke-width:.9" d="M586.3 975Q590.5 968.5 596.9 964.4Q602.5 962.6 608.3 962.8Q612 966 614.4 970.1Q616.2 973 616.8 976.6L615.6 992.1L614.4 1011.7Q613.2 1016.5 610.7 1019.8Q607.5 1023 602.6 1024.7Q598 1025.5 594.4 1024.7Q591.2 1023.6 589.1 1021.4L589.5 990.5Q587.2 986 586.3 980.7Z"/>
<path d="M586.8 975.2Q590.8 969 597 964.9Q602.5 963.1 608.1 963.3Q611.6 966.3 614 970.3Q615.7 973.1 616.3 976.6L615.8 984.6L598.5 992.1Q594 989 590 985Q587.5 981 586.8 975.2Z" fill="#c2c2c2" stroke="#222" stroke-width=".5"/>
<path d="M598.3 991.6Q606 986.5 615.4 983.8L615.2 988.8Q606.5 991.5 599.4 996.4Q597.8 994.4 598.3 991.6Z" fill="#fff" stroke="#222" stroke-width=".5"/>
<path d="M600 997.2L614.6 990.4L614.2 994L601.6 999.8Z" fill="#8a8a8a" stroke="#222" stroke-width=".5"/>
<path class="t" d="M590 985L589.5 990.5M599.4 996.2L597 1024.6M592.6 990.6Q594.6 996 593 1002.6Q591.2 1000 590.4 996M592.4 1014.8H598M592.4 1017.4H598M592.4 1020H598M600.5 1004V1022"/>
<rect x="605.6" y="1000.4" width="3.4" height="11" rx="1.6" fill="#909090" stroke="#222" stroke-width=".5"/>
<path d="M606.6 1016.6L608.6 1014.6" stroke="#111" stroke-width="1.1"/>
<path d="M607.3 1019V1022" stroke="#111" stroke-width=".7"/>
<text transform="translate(605.2 979.8) rotate(-22) skewX(-10)" font-size="6.6" font-weight="bold" stroke="#111" stroke-width=".3" text-anchor="middle">SKIL</text>
<!-- screw -->
<path d="M601.3 957.3L618 962.7" stroke="#333" stroke-width=".7" stroke-dasharray="2.5 2" fill="none"/>
<ellipse cx="622" cy="963.6" rx="2.6" ry="3.4" fill="#fff" stroke="#222" stroke-width=".6" transform="rotate(25 622 963.6)"/>
<!-- bubble -->
<circle cx="654.1" cy="1018.4" r="26.3" fill="#bbb" stroke="#555" stroke-width=".7"/>
<use href="#vial" transform="translate(654 1018.1)"/>
<path class="b" d="M610.7 997.3L631.2 1002.2L629.4 1009.6Z"/>
</g>
</svg>
</body></html>
